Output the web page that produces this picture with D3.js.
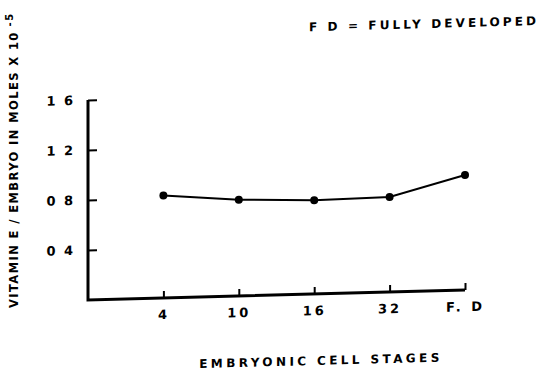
<!DOCTYPE html>
<html>
<head>
<meta charset="utf-8">
<script src="https://cdn.jsdelivr.net/npm/d3@7"></script>
<style>
  html, body { margin: 0; padding: 0; background: #fff; }
  svg { display: block; }
  text { font-family: "DejaVu Sans", sans-serif; font-weight: bold; fill: #000; }
</style>
</head>
<body>
<div id="chart"></div>
<script>
// embryonic stages on the x axis
const stages = ["4", "10", "16", "32", "F. D"];
// vitamin E per embryo (moles x 10^-5)
const vitaminE = [8.2, 7.7, 7.5, 7.6, 9.2];
// y ticks and the labels printed next to them
const yTicks = [16, 12, 8, 4];
const yTickLabels = ["1 6", "1 2", "0 8", "0 4"];

const width = 545;
const height = 380;
const margin = { left: 88, right: 80, top: 100, bottom: 80 };

const svg = d3.select("#chart")
  .append("svg")
  .attr("width", width)
  .attr("height", height);

svg.append("rect")
  .attr("width", width)
  .attr("height", height)
  .attr("fill", "#fff");

const x = d3.scalePoint()
  .domain(stages)
  .range([margin.left, width - margin.right])
  .padding(0.5)
  .align(1);

const y = d3.scaleLinear()
  .domain([0, 16])
  .range([height - margin.bottom, margin.top]);

const x0 = margin.left;
const y0 = y(0);

// the scanned figure is slightly sheared, the baseline rises to the right
const plot = svg.append("g")
  .attr("transform", `translate(${x0},${y0}) skewY(-1.52) translate(${-x0},${-y0})`);

// y axis
plot.append("g")
  .attr("transform", `translate(${x0},0)`)
  .call(d3.axisLeft(y)
    .tickValues(yTicks)
    .tickSize(-9)
    .tickSizeOuter(0)
    .tickPadding(13)
    .tickFormat((d, i) => yTickLabels[i]))
  .call(g => g.select(".domain").remove())
  .call(g => g.selectAll(".tick line").attr("stroke", "#000").attr("stroke-width", 2))
  .call(g => g.selectAll(".tick text")
    .attr("font-size", 13)
    .attr("letter-spacing", 2)
    .attr("font-family", "DejaVu Sans")
    .attr("font-weight", "bold"));

// x axis
plot.append("g")
  .attr("transform", `translate(0,${y0})`)
  .call(d3.axisBottom(x)
    .tickSize(-7)
    .tickSizeOuter(0)
    .tickPadding(12))
  .call(g => g.select(".domain").remove())
  .call(g => g.selectAll(".tick line").attr("stroke", "#000").attr("stroke-width", 2))
  .call(g => g.selectAll(".tick text")
    .attr("font-size", 13)
    .attr("letter-spacing", 3)
    .attr("font-family", "DejaVu Sans")
    .attr("font-weight", "bold"));

// the axis frame (drawn thicker than the ticks)
plot.append("path")
  .attr("fill", "none")
  .attr("stroke", "#000")
  .attr("stroke-width", 3)
  .attr("stroke-linejoin", "miter")
  .attr("d", d3.line()([[x0, y(16)], [x0, y0], [x(stages[stages.length - 1]), y0]]));

// data line + markers
const points = stages.map((s, i) => [x(s), y(vitaminE[i])]);

plot.append("path")
  .attr("fill", "none")
  .attr("stroke", "#000")
  .attr("stroke-width", 2)
  .attr("d", d3.line()(points));

plot.selectAll("circle")
  .data(points)
  .join("circle")
  .attr("cx", d => d[0])
  .attr("cy", d => d[1])
  .attr("r", 4)
  .attr("fill", "#000");

// x title
plot.append("text")
  .attr("x", 321)
  .attr("y", 371)
  .attr("text-anchor", "middle")
  .attr("font-size", 12)
  .attr("letter-spacing", 3.4)
  .text("EMBRYONIC CELL STAGES");

// legend note
plot.append("text")
  .attr("x", 309)
  .attr("y", 37)
  .attr("font-size", 12)
  .attr("letter-spacing", 3.1)
  .text("F D = FULLY DEVELOPED");

// y title
const yTitle = svg.append("text")
  .attr("transform", "translate(18,308) rotate(-90)")
  .attr("font-size", 11.5)
  .attr("letter-spacing", 1.4);

yTitle.append("tspan").text("VITAMIN E / EMBRYO IN MOLES X 10");
yTitle.append("tspan")
  .attr("dy", -5)
  .attr("font-size", 10)
  .text(" -5");
</script>
</body>
</html>
